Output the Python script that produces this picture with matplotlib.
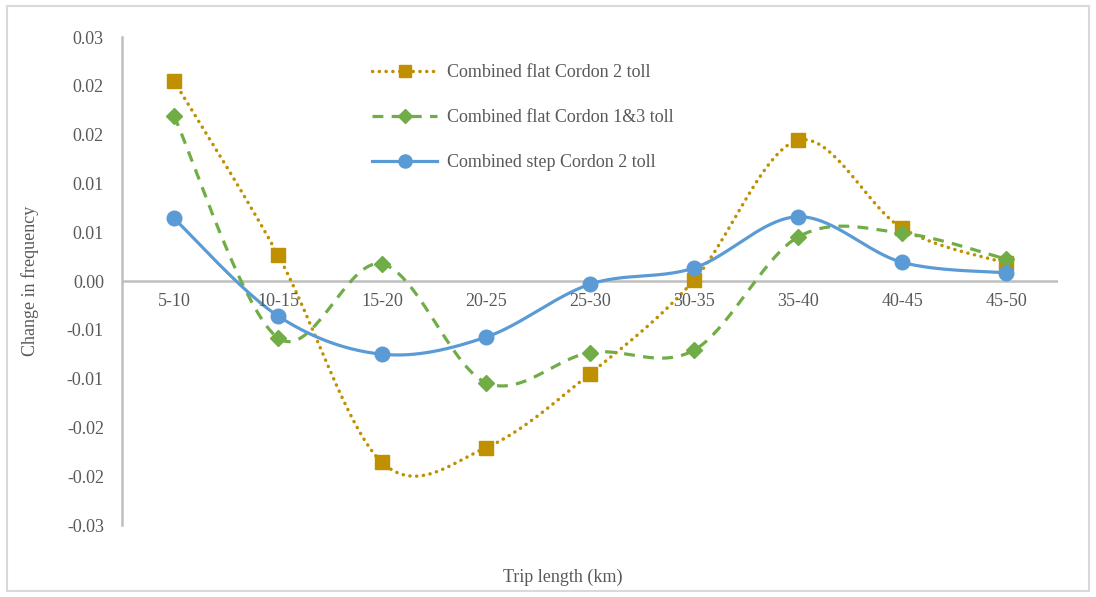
import numpy as np
import matplotlib
matplotlib.use("Agg")
import matplotlib.pyplot as plt
from matplotlib.lines import Line2D
from matplotlib.patches import Rectangle

plt.rcParams['font.family'] = ['Liberation Serif', 'DejaVu Serif']

categories = ["5-10", "10-15", "15-20", "20-25", "25-30", "30-35", "35-40", "40-45", "45-50"]

flat_cordon2 = [0.0246, 0.0032, -0.0223, -0.0205, -0.0114, 0.0001, 0.0173, 0.0065, 0.0022]
flat_cordon13 = [0.0203, -0.0070, 0.0021, -0.0125, -0.0088, -0.0085, 0.0054, 0.0059, 0.0027]
step_cordon2 = [0.0077, -0.0043, -0.0090, -0.0069, -0.0004, 0.0016, 0.0079, 0.0023, 0.0010]

series_names = ["Combined flat Cordon 2 toll", "Combined flat Cordon 1&3 toll", "Combined step Cordon 2 toll"]
y_ticks = [-0.03, -0.024, -0.018, -0.012, -0.006, 0.0, 0.006, 0.012, 0.018, 0.024, 0.03]

GOLD = "#BF9000"
GREEN = "#70AD47"
BLUE = "#5B9BD5"
TEXT = "#595959"
AXIS = "#BFBFBF"


def smooth(xs, ys, n=40):
    """Catmull-Rom style Bezier smoothing through every point."""
    xs = np.asarray(xs, float)
    ys = np.asarray(ys, float)
    P = np.column_stack([xs, ys])
    m = len(P)
    out = []
    t = np.linspace(0, 1, n)[:, None]
    for i in range(m - 1):
        p0 = P[i - 1] if i > 0 else P[i]
        p1 = P[i]
        p2 = P[i + 1]
        p3 = P[i + 2] if i + 2 < m else P[i + 1]
        c1 = p1 + (p2 - p0) / 6.0
        c2 = p2 - (p3 - p1) / 6.0
        seg = ((1 - t) ** 3) * p1 + 3 * ((1 - t) ** 2) * t * c1 + 3 * (1 - t) * t ** 2 * c2 + t ** 3 * p2
        out.append(seg if i == 0 else seg[1:])
    pts = np.vstack(out)
    return pts[:, 0], pts[:, 1]


fig = plt.figure(figsize=(10.96, 5.97), dpi=100)
ax = fig.add_axes([122 / 1096, 1 - 525 / 597, (1058 - 122) / 1096, (525 - 37) / 597])

x = np.arange(len(categories))

styles = [
    dict(values=flat_cordon2, color=GOLD, ls=(0, (0.05, 1.9)), lw=2.5, marker='s', ms=10, cap='round'),
    dict(values=flat_cordon13, color=GREEN, ls=(0, (3.4, 2.6)), lw=2.3, marker='D', ms=8, cap='butt'),
    dict(values=step_cordon2, color=BLUE, ls='-', lw=2.3, marker='o', ms=10.5, cap='round'),
]

handles = []
for s, name in zip(styles, series_names):
    sx, sy = smooth(x, s['values'])
    ax.plot(sx, sy, color=s['color'], linestyle=s['ls'], lw=s['lw'],
            dash_capstyle=s['cap'], solid_capstyle='round', zorder=3)
    ax.plot(x, s['values'], linestyle='none', marker=s['marker'], ms=s['ms'],
            color=s['color'], markeredgecolor=s['color'], zorder=4)
    handles.append(Line2D([0], [0], color=s['color'], linestyle=s['ls'], lw=s['lw'],
                          dash_capstyle=s['cap'], marker=s['marker'], ms=s['ms'] * 0.9,
                          markeredgecolor=s['color'], label=name))

ax.set_xlim(-0.5, len(categories) - 0.5)
ax.set_ylim(-0.03, 0.03)

# zero baseline acting as the category axis
ax.axhline(0, color=AXIS, lw=1.8, zorder=2)
for i, c in enumerate(categories):
    ax.annotate(c, xy=(i, 0), xytext=(0, -20), textcoords='offset pixels',
                ha='center', va='center', fontsize=13, color=TEXT)

ax.set_xticks([])
ax.set_yticks(y_ticks)
ax.set_yticklabels([f"{v:.2f}" for v in y_ticks])
ax.tick_params(axis='y', length=0, pad=13, labelsize=13, labelcolor=TEXT)

for side in ['top', 'right', 'bottom']:
    ax.spines[side].set_visible(False)
ax.spines['left'].set_color(AXIS)
ax.spines['left'].set_linewidth(1.8)

fig.text(30 / 1096, 1 - 281 / 597, "Change in frequency", rotation=90,
         ha='center', va='center', fontsize=13, color=TEXT)
fig.text(563 / 1096, 1 - 577 / 597, "Trip length (km)",
         ha='center', va='center', fontsize=13, color=TEXT)

leg = ax.legend(handles=handles, loc='upper left',
                bbox_to_anchor=(356 / 1096, 1 - 48 / 597), bbox_transform=fig.transFigure,
                frameon=False, fontsize=13, labelcolor=TEXT, handlelength=3.6,
                handletextpad=0.55, labelspacing=1.55, numpoints=1)

fig.patches.append(Rectangle((7 / 1096, 6 / 597), 1082 / 1096, 585 / 597,
                             transform=fig.transFigure, fill=False,
                             edgecolor='#D9D9D9', lw=1.5))

fig.savefig("out.png", dpi=100, facecolor='white')
